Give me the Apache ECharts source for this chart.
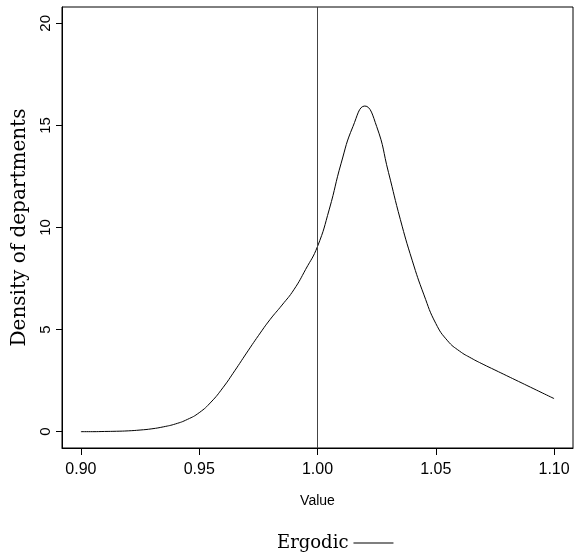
<!DOCTYPE html>
<html>
<head>
<meta charset="utf-8">
<script src="https://cdn.jsdelivr.net/npm/echarts@6/dist/echarts.min.js"></script>
<style>
html,body{margin:0;padding:0;background:#fff;}
#chart{width:575px;height:554px;}
</style>
</head>
<body>
<div id="chart"></div>
<script>
// Data
var densityX = [0.900, 0.905, 0.910, 0.915, 0.920, 0.925, 0.930, 0.935, 0.940, 0.945,
                0.950, 0.955, 0.960, 0.965, 0.970, 0.975, 0.980, 0.985, 0.990, 0.995,
                1.000, 1.005, 1.010, 1.015, 1.020, 1.025, 1.030, 1.035, 1.040, 1.045,
                1.050, 1.055, 1.060, 1.065, 1.070, 1.075, 1.080, 1.085, 1.090, 1.095, 1.100];
var densityY = [0.00, 0.00, 0.01, 0.02, 0.04, 0.08, 0.14, 0.24, 0.38, 0.60,
                0.93, 1.45, 2.15, 2.98, 3.85, 4.70, 5.50, 6.20, 6.95, 7.95,
                9.07, 10.90, 13.15, 14.95, 15.95, 14.95, 12.70, 10.40, 8.40, 6.70,
                5.30, 4.45, 3.95, 3.60, 3.30, 3.02, 2.74, 2.46, 2.18, 1.90, 1.62];
var xTicks = [0.90, 0.95, 1.00, 1.05, 1.10];
var yTicks = [0, 5, 10, 15, 20];
var refLineX = [1.00];
var seriesName = 'Ergodic';

var pts = densityX.map(function (x, i) { return [x, densityY[i]]; });

var chart = echarts.init(document.getElementById('chart'), null, {renderer: 'canvas'});
chart.setOption({
  animation: false,
  backgroundColor: '#ffffff',
  grid: {left: 62, right: 2, top: 7, bottom: 106, show: true, borderColor: '#000', borderWidth: 1, backgroundColor: 'transparent'},
  legend: {
    data: [{name: seriesName, icon: 'rect'}],
    left: 272, top: 529,
    align: 'right',
    itemWidth: 40, itemHeight: 1,
    textStyle: {fontFamily: 'DejaVu Serif', fontSize: 18, color: '#000'},
    itemStyle: {color: '#000'}
  },
  xAxis: {
    type: 'value', min: 0.892, max: 1.108,
    name: 'Value', nameLocation: 'middle', nameGap: 46,
    nameTextStyle: {fontFamily: 'Liberation Sans', fontSize: 14, color: '#000'},
    axisLine: {show: true, onZero: false, lineStyle: {color: '#000', width: 1}},
    axisTick: {show: true, inside: false, length: 7, customValues: xTicks, lineStyle: {color: '#000'}},
    axisLabel: {show: true, customValues: xTicks, margin: 14, fontFamily: 'Liberation Sans', fontSize: 16, color: '#000',
      formatter: function (v) { return v.toFixed(2); }},
    splitLine: {show: false}
  },
  yAxis: {
    type: 'value', min: -0.8, max: 20.8,
    name: 'Density of departments', nameLocation: 'middle', nameGap: 30,
    nameTextStyle: {fontFamily: 'DejaVu Serif', fontSize: 20, color: '#000'},
    axisLine: {show: true, onZero: false, lineStyle: {color: '#000', width: 1}},
    axisTick: {show: true, inside: false, length: 6, customValues: yTicks, lineStyle: {color: '#000'}},
    axisLabel: {show: true, customValues: yTicks, rotate: 90, margin: 9, fontFamily: 'Liberation Sans', fontSize: 15, color: '#000'},
    splitLine: {show: false}
  },
  series: [{
    name: seriesName,
    type: 'line',
    data: pts,
    smooth: 0.5,
    showSymbol: false,
    symbol: 'none',
    lineStyle: {color: '#000', width: 1},
    itemStyle: {color: '#000'},
    markLine: {
      silent: true,
      symbol: ['none', 'none'],
      label: {show: false},
      lineStyle: {color: '#444', width: 1, type: 'solid'},
      data: refLineX.map(function (v) { return {xAxis: v}; })
    }
  }]
});
</script>
</body>
</html>
